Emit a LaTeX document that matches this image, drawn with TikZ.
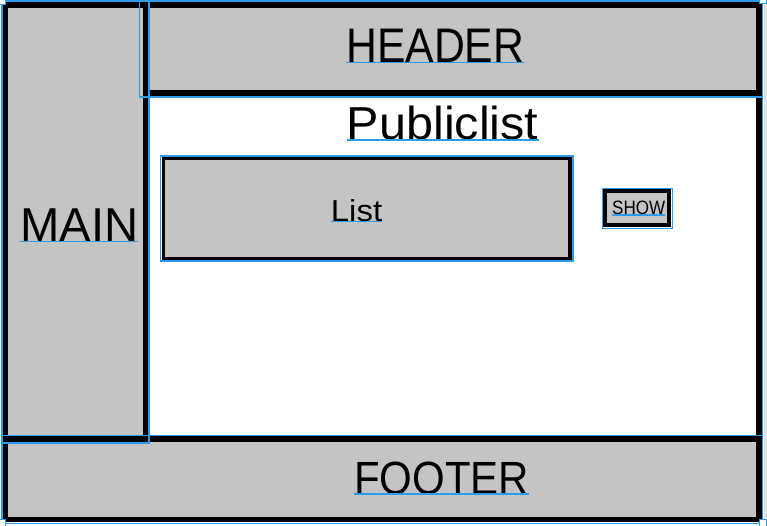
\documentclass[tikz,border=0pt]{standalone}
\usepackage{fontspec}
\setmainfont{Liberation Sans}
\definecolor{selblue}{RGB}{45,155,235}
\definecolor{boxgrey}{RGB}{196,196,196}
\definecolor{edgegrey}{RGB}{228,228,228}
\newcommand{\sizedtext}[3]{\resizebox{#1pt}{#2pt}{#3}}
\tikzset{
  frame/.style={draw=black, line width=5.8pt, fill=boxgrey},
  frameopen/.style={draw=black, line width=5.8pt},
  inner/.style={draw=black, line width=3.5pt, fill=boxgrey},
  sel/.style={draw=selblue, line width=1.2pt},
  uline/.style={draw=selblue, line width=1.1pt},
  lbl/.style={inner sep=0pt, anchor=base west, text=black},
  handle/.style={draw=selblue, line width=1pt, fill=white}
}
\begin{document}
\begin{tikzpicture}[x=1pt, y=-1pt]
\useasboundingbox (0,0) rectangle (767,526);
\fill[white] (0,0) rectangle (767,526);
\fill[edgegrey] (763.5,0) rectangle (767,526);
% black frames
\draw[frame] (4.75,4.75) rectangle (145.5,439);
\draw[frame] (145.5,4.75) rectangle (759,93.3);
\draw[frame] (4.75,439) rectangle (759,519.5);
\draw[frameopen] (4.75,4.75) rectangle (759,519.5);
\draw[inner] (163.3,158.5) rectangle (570,258.3);
\draw[inner] (605,191.2) rectangle (669.2,225.2);
% selection outlines
\draw[sel] (2,1) rectangle (762.3,523.5);
\draw[sel] (2,1) rectangle (149,443);
\draw[sel] (139.5,0.6) rectangle (762.3,97);
\draw[sel] (2,435.5) rectangle (762.3,523.5);
\draw[sel] (160.7,156) rectangle (573,261);
\draw[sel] (602.7,188.7) rectangle (672.3,228.3);
% texts
\node[lbl] (header) at (346,62.7) {\sizedtext{178}{33.4}{HEADER}};
\node[lbl] (main) at (20,241.7) {\sizedtext{118}{32.7}{MAIN}};
\node[lbl] (title) at (346.7,140) {\sizedtext{191.6}{33.5}{Publiclist}};
\node[lbl] (list) at (330.7,221.7) {\sizedtext{51.3}{22}{List}};
\node[lbl] (show) at (612,215) {\sizedtext{53}{13.5}{SHOW}};
\node[lbl] (footer) at (354,494) {\sizedtext{175}{32.5}{FOOTER}};
% text baselines
\draw[uline] (header.base west) -- (header.base east);
\draw[uline] (main.base west) -- (main.base east);
\draw[uline] (title.base west) -- (title.base east);
\draw[uline] (list.base west) -- (list.base east);
\draw[uline] (show.base west) -- (show.base east);
\draw[uline] (footer.base west) -- (footer.base east);
% handles
\draw[handle] (-2,-3) rectangle (5,4.5);
\draw[handle] (759,-3) rectangle (766,4);
\draw[handle] (-2,519.5) rectangle (5,527);
\draw[handle] (759,519.5) rectangle (766,527);
\end{tikzpicture}
\end{document}
